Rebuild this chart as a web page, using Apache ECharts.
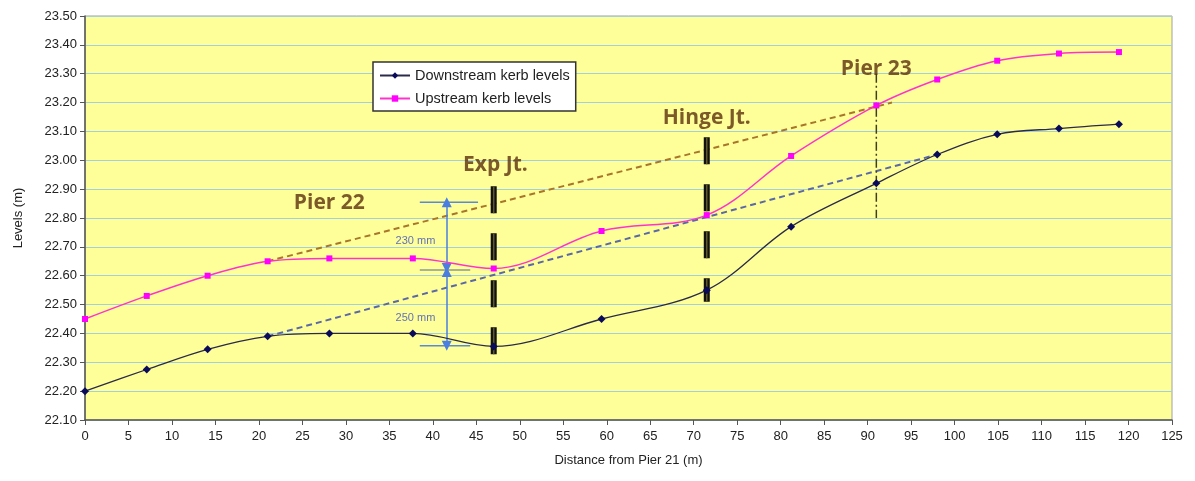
<!DOCTYPE html>
<html>
<head>
<meta charset="utf-8">
<script src="https://cdn.jsdelivr.net/npm/echarts@6/dist/echarts.min.js"></script>
<style>
  html, body { margin: 0; padding: 0; background: #fff; }
  #chart { width: 1195px; height: 481px; }
</style>
</head>
<body>
<div id="chart"></div>
<script>
// distances (m) from Pier 21
var distances = [0, 7.1, 14.1, 21.0, 28.1, 37.7, 47.0, 59.4, 71.5, 81.2, 91.0, 98.0, 104.9, 112.0, 118.9];
// kerb levels (m)
var downstream = [22.20, 22.275, 22.345, 22.39, 22.40, 22.40, 22.355, 22.45, 22.55, 22.77, 22.92, 23.02, 23.09, 23.11, 23.125];
var upstream   = [22.45, 22.53, 22.60, 22.65, 22.66, 22.66, 22.625, 22.755, 22.81, 23.015, 23.19, 23.28, 23.345, 23.37, 23.375];

// dashed reference lines between piers
var upstreamRef   = [[21.0, 22.65], [92.8, 23.20]];
var downstreamRef = [[21.0, 22.39], [98.0, 23.02]];

// joints (vertical marks)
var expJoint   = [[47.0, 22.91], [47.0, 22.32]];
var hingeJoint = [[71.5, 23.08], [71.5, 22.51]];
var pier23Line = [[91.0, 23.30], [91.0, 22.80]];

// dimension annotation
var dimTop = [[38.5, 22.855], [45.2, 22.855]];
var dimMid = [[38.5, 22.62], [44.3, 22.62]];
var dimBot = [[38.5, 22.357], [44.3, 22.357]];
var dimX = 41.6;

// labels
var bigLabels = [[28.1, 22.853, 'Pier 22'], [47.2, 22.982, 'Exp Jt.'], [71.5, 23.148, 'Hinge Jt.'], [91.0, 23.315, 'Pier 23']];
var dimLabels = [[38.0, 22.72, '230 mm'], [38.0, 22.455, '250 mm']];

var yTicks = { min: 22.1, max: 23.5, step: 0.1 };
var xTicks = { min: 0, max: 125, step: 5 };

function pairs(xs, ys) {
  return xs.map(function (x, i) { return [x, ys[i]]; });
}

var chart = echarts.init(document.getElementById('chart'));

function plainLine(name, data, style, z) {
  return {
    name: name,
    type: 'line',
    data: data,
    symbol: 'none',
    silent: true,
    z: z || 2,
    lineStyle: style,
    animation: false
  };
}

var option = {
  animation: false,
  textStyle: { fontFamily: 'Liberation Sans, Arial, sans-serif' },
  grid: {
    left: 85, right: 23, top: 16, bottom: 61,
    show: true,
    backgroundColor: '#ffff99',
    borderColor: '#a0a0a0',
    borderWidth: 1
  },
  legend: {
    data: ['Downstream kerb levels', 'Upstream kerb levels'],
    orient: 'vertical',
    left: 373, top: 62,
    backgroundColor: '#ffffff',
    borderColor: '#333333',
    borderWidth: 1.5,
    padding: [6, 6, 5, 6],
    itemGap: 8,
    itemWidth: 30,
    itemHeight: 8,
    textStyle: { fontSize: 14.5, color: '#222', fontFamily: 'Liberation Sans, Arial, sans-serif' }
  },
  xAxis: {
    type: 'value',
    min: xTicks.min, max: xTicks.max, interval: xTicks.step,
    name: 'Distance from Pier 21 (m)',
    nameLocation: 'middle',
    nameGap: 34,
    nameTextStyle: { fontSize: 13, color: '#222' },
    axisLine: { lineStyle: { color: '#555', width: 1.5 } },
    axisTick: { show: true, length: 5, lineStyle: { color: '#555' } },
    axisLabel: { fontSize: 13, color: '#222', margin: 10 },
    splitLine: { show: false }
  },
  yAxis: {
    type: 'value',
    min: yTicks.min, max: yTicks.max, interval: yTicks.step,
    name: 'Levels (m)',
    nameLocation: 'middle',
    nameGap: 60,
    nameTextStyle: { fontSize: 13, color: '#222' },
    axisLine: { show: true, lineStyle: { color: '#555', width: 1.5 } },
    axisTick: { show: true, length: 5, lineStyle: { color: '#555' } },
    axisLabel: {
      fontSize: 13, color: '#222', margin: 8,
      formatter: function (v) { return v.toFixed(2); }
    },
    splitLine: { show: true, lineStyle: { color: '#a3d0dc', width: 1.2 } }
  },
  series: [
    // reference dashes
    plainLine('upRef', upstreamRef, { color: '#a8762a', width: 2, type: [6, 4] }, 2),
    plainLine('downRef', downstreamRef, { color: '#5b68a6', width: 2, type: [6, 4] }, 2),
    // joints
    plainLine('expJt', expJoint, { color: '#111', width: 6, type: [27, 20] }, 4),
    plainLine('expJtIn', expJoint, { color: '#5e5a2a', width: 1.5, type: [27, 20] }, 5),
    plainLine('hingeJt', hingeJoint, { color: '#111', width: 6, type: [27, 20] }, 4),
    plainLine('hingeJtIn', hingeJoint, { color: '#5e5a2a', width: 1.5, type: [27, 20] }, 5),
    plainLine('pier23', pier23Line, { color: '#3e3e20', width: 1.5, type: [9, 3, 2, 3] }, 4),
    // dimension lines
    plainLine('dimTop', dimTop, { color: '#5a8ad6', width: 1.5 }, 3),
    plainLine('dimMid', dimMid, { color: '#8a9a9a', width: 1.5 }, 3),
    plainLine('dimBot', dimBot, { color: '#5a8ad6', width: 1.5 }, 3),
    {
      name: 'dimArrows',
      type: 'line',
      data: [],
      silent: true,
      markLine: {
        silent: true,
        symbol: ['triangle', 'triangle'],
        symbolSize: [10, 10],
        label: { show: false },
        lineStyle: { color: '#4a7fe0', width: 1.5, type: 'solid' },
        data: [
          [{ coord: [dimX, dimTop[0][1]] }, { coord: [dimX, dimMid[0][1] + 0.007] }],
          [{ coord: [dimX, dimMid[0][1] - 0.007] }, { coord: [dimX, dimBot[0][1]] }]
        ]
      }
    },
    // main data
    {
      name: 'Downstream kerb levels',
      type: 'line',
      data: pairs(distances, downstream),
      smooth: 0.35,
      symbol: 'diamond',
      symbolSize: 8,
      z: 6,
      itemStyle: { color: '#0a0a5a' },
      lineStyle: { color: '#2a2a4a', width: 1.3 }
    },
    {
      name: 'Upstream kerb levels',
      type: 'line',
      data: pairs(distances, upstream),
      smooth: 0.35,
      symbol: 'rect',
      symbolSize: 6,
      z: 6,
      itemStyle: { color: '#ff00ff' },
      lineStyle: { color: '#ff33cc', width: 1.5 }
    },
    // text labels
    {
      name: 'bigLabels',
      type: 'scatter',
      data: bigLabels,
      symbolSize: 0,
      silent: true,
      z: 7,
      label: {
        show: true,
        position: 'inside',
        formatter: function (p) { return p.data[2]; },
        fontSize: 21,
        fontWeight: 'bold',
        color: '#5a300c',
        fontFamily: 'Open Sans, Noto Sans, sans-serif'
      }
    },
    {
      name: 'dimLabels',
      type: 'scatter',
      data: dimLabels,
      symbolSize: 0,
      silent: true,
      z: 7,
      label: {
        show: true,
        position: 'inside',
        formatter: function (p) { return p.data[2]; },
        fontSize: 11,
        color: '#3a4cc0'
      }
    }
  ]
};

chart.setOption(option);
</script>
</body>
</html>
